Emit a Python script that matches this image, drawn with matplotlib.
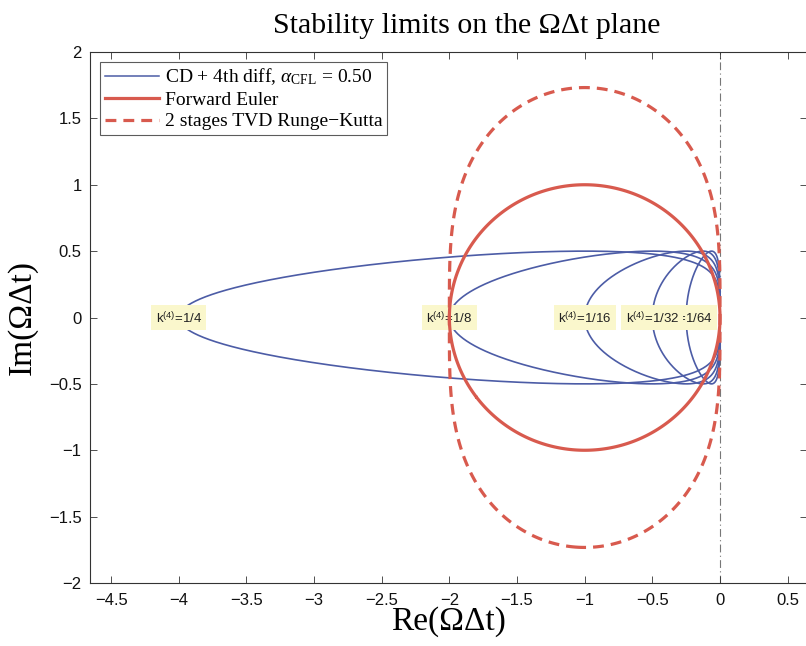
import numpy as np
import matplotlib.pyplot as plt
from matplotlib.lines import Line2D

plt.rcParams['font.family'] = 'Liberation Serif'
plt.rcParams['mathtext.fontset'] = 'custom'
plt.rcParams['mathtext.rm'] = 'Liberation Serif'
plt.rcParams['mathtext.it'] = 'Liberation Serif:italic'
plt.rcParams['mathtext.sf'] = 'Liberation Sans'

# 4th-difference dissipation coefficients and CFL number
k4_values = [1/4, 1/8, 1/16, 1/32, 1/64]
k4_labels = ['1/4', '1/8', '1/16', '1/32', '1/64']
cfl = 0.50

x_ticks = [-4.5, -4, -3.5, -3, -2.5, -2, -1.5, -1, -0.5, 0, 0.5]
y_ticks = [-2, -1.5, -1, -0.5, 0, 0.5, 1, 1.5, 2]
x_limits = (-4.656, 0.643)
y_limits = (-2, 2)

blue = '#4c5ca6'
red = '#d85a4e'

fig = plt.figure(figsize=(8.06, 6.46), dpi=100)
ax = fig.add_axes([90/806, 63/646, 717/806, 531/646])

# eigenvalue loci of central differences + 4th-difference dissipation
theta = np.linspace(0, 2*np.pi, 1441)
for k4 in k4_values:
    re = -16*k4*np.sin(theta/2)**4
    im = -cfl*np.sin(theta)
    ax.plot(re, im, color=blue, lw=1.2, zorder=2)

# |G| = 1 boundaries of the time integrators
x = np.linspace(-2.5, 0.5, 1201)
y = np.linspace(-2.0, 2.0, 1601)
X, Y = np.meshgrid(x, y)
Z = X + 1j*Y
ax.contour(X, Y, np.abs(1 + Z), levels=[1], colors=red,
           linewidths=2.3, zorder=4)
ax.contour(X, Y, np.abs(1 + Z + Z**2/2), levels=[1], colors=red,
           linewidths=2.3, linestyles=[(0, (3.4, 2.2))], zorder=4)

ax.axvline(0, color='#777777', lw=0.8, ls=(0, (7, 3, 1, 3)), zorder=1)

# labels at the tip of each locus, smallest k4 first so 1/32 sits on top
for k4, lab in reversed(list(zip(k4_values, k4_labels))):
    ax.text(-16*k4, 0, r'k$^{\mathsf{(4)}}$=' + lab, ha='center', va='center',
            family='Liberation Sans', fontsize=9.5, zorder=3, color='#222222',
            bbox=dict(facecolor='#faf7cc', edgecolor='none', pad=3))

ax.set_xlim(x_limits)
ax.set_ylim(y_limits)
ax.set_xticks(x_ticks)
ax.set_yticks(y_ticks)
ax.set_xticklabels([f'{t:g}'.replace('-', '\u2212') for t in x_ticks],
                   family='Liberation Sans', fontsize=12)
ax.set_yticklabels([f'{t:g}'.replace('-', '\u2212') for t in y_ticks],
                   family='Liberation Sans', fontsize=12)
ax.tick_params(direction='in', length=5, width=0.6, top=True, right=True,
               colors='#333333', labelcolor='#111111')
ax.tick_params(axis='x', pad=7)
ax.tick_params(axis='y', pad=6)
for s in ax.spines.values():
    s.set_color('#333333')
    s.set_linewidth(0.8)

ax.set_title('Stability limits on the \u03a9\u0394t plane', fontsize=21.5,
             x=0.526, pad=14)
ax.set_xlabel('Re(\u03a9\u0394t)', fontsize=24, labelpad=-1)
ax.set_ylabel('Im(\u03a9\u0394t)', fontsize=24, labelpad=8)

handles = [
    Line2D([], [], color=blue, lw=1.1),
    Line2D([], [], color=red, lw=2.3),
    Line2D([], [], color=red, lw=2.3, ls=(0, (3.4, 2.2))),
]
names = [r'CD + 4th diff, $\alpha_{\mathrm{CFL}}$ = 0.50',
         'Forward Euler',
         '2 stages TVD Runge\u2212Kutta']
leg = ax.legend(handles, names, loc='upper left', fontsize=14,
                frameon=True, fancybox=False, edgecolor='#333333',
                handlelength=2.8, borderaxespad=0.5, borderpad=0.25,
                labelspacing=0.2, handletextpad=0.3)
leg.get_frame().set_linewidth(0.8)

fig.savefig('out.png', dpi=100)
